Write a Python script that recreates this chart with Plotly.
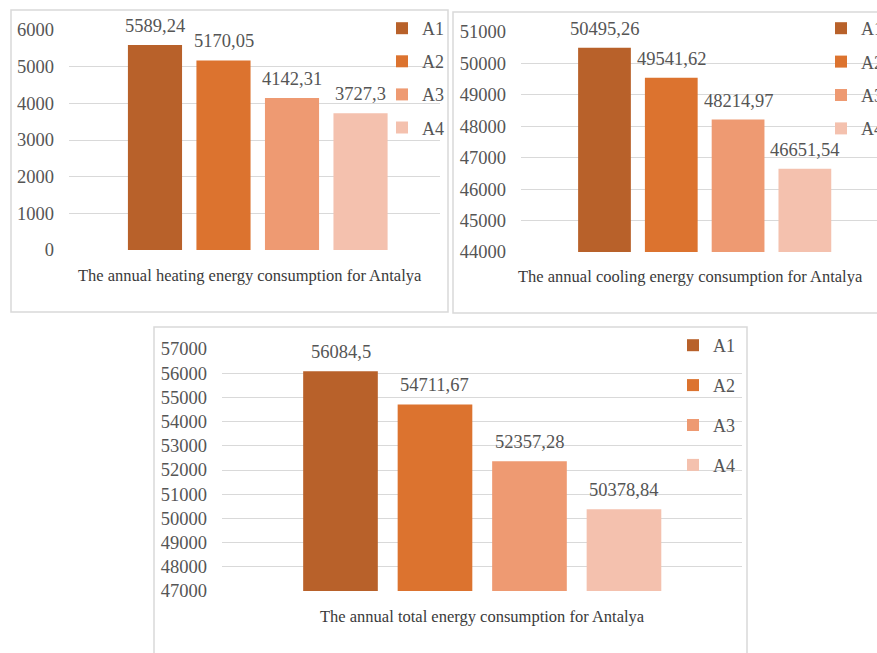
import plotly.graph_objects as go

# Series names and colours shared by all three panels
series = ["A1", "A2", "A3", "A4"]
colors = ["#B8612A", "#DC732F", "#EE9A72", "#F4C1AE"]

# Annual energy consumption values (kWh) for Antalya
heating = [5589.24, 5170.05, 4142.31, 3727.3]
cooling = [50495.26, 49541.62, 48214.97, 46651.54]
total = [56084.5, 54711.67, 52357.28, 50378.84]

titles = [
    "The annual heating energy consumption for Antalya",
    "The annual cooling energy consumption for Antalya",
    "The annual total energy consumption for Antalya",
]

W, H = 877, 653
FONT = "Liberation Serif"
TXT = "#555555"
GRID = "#D9D9D9"


def px(x):
    return x / W


def py(y):
    return 1 - y / H


def fmt(v):
    return str(v).replace(".", ",")


panels = [
    dict(vals=heating, ax="", leg="legend", title=titles[0], tshift=-5,
         xdom=[px(69), px(440)], ydom=[py(250), py(30)],
         xr=[-1.255, 4.16], yr=[0, 6000],
         box=(11, 10, 448, 312), legpos=(382, 10), gap=6.7),
    dict(vals=cooling, ax="2", leg="legend2", title=titles[1], tshift=-9,
         xdom=[px(521), 1.0], ydom=[py(252), py(32)],
         xr=[-1.25, 4.08], yr=[44000, 51000],
         box=(453, 12, 890, 313), legpos=(821, 10), gap=7.0),
    dict(vals=total, ax="3", leg="legend3", title=titles[2], tshift=0,
         xdom=[px(222), px(742)], ydom=[py(591), py(349)],
         xr=[-1.254, 4.249], yr=[47000, 57000],
         box=(154, 327, 747, 670), legpos=(673, 327), gap=13.5),
]

fig = go.Figure()
layout = dict(
    width=W, height=H,
    margin=dict(l=0, r=0, t=0, b=0, autoexpand=False),
    paper_bgcolor="white", plot_bgcolor="white",
    barmode="overlay", showlegend=True,
    font=dict(family=FONT, color=TXT, size=18),
)
shapes = []
annotations = []

for p in panels:
    xa = "x" + p["ax"]
    ya = "y" + p["ax"]
    for name, col, v in zip(series, colors, p["vals"]):
        fig.add_trace(go.Bar(
            x=[name], y=[v], name=name, legend=p["leg"],
            legendgroup=name + p["ax"],
            marker=dict(color=col, line=dict(width=0)),
            width=0.79, xaxis=xa, yaxis=ya,
            hovertemplate="%{x}: %{y}<extra></extra>",
        ))
        annotations.append(dict(
            x=name, y=v, xref=xa, yref=ya, text=fmt(v), showarrow=False,
            yanchor="middle", yshift=19,
            font=dict(family=FONT, size=18.5, color=TXT),
        ))
    annotations.append(dict(
        x=0.5, y=0, xref=xa + " domain", yref=ya + " domain",
        text=p["title"], showarrow=False, yanchor="middle", yshift=-25,
        xshift=p["tshift"],
        font=dict(family=FONT, size=16.5, color="#3a3a3a"),
    ))
    layout["xaxis" + p["ax"]] = dict(
        domain=p["xdom"], range=p["xr"], type="category",
        categoryorder="array", categoryarray=series,
        showticklabels=False, showgrid=False, zeroline=False,
        showline=False, ticks="", anchor=ya, fixedrange=True,
    )
    layout["yaxis" + p["ax"]] = dict(
        domain=p["ydom"], range=p["yr"], dtick=1000, tick0=0,
        tickformat="d",
        showgrid=True, gridcolor=GRID, gridwidth=1, zeroline=False,
        showline=False, ticks="", ticklabelstandoff=14,
        tickfont=dict(family=FONT, size=18.5, color=TXT),
        anchor=xa, fixedrange=True,
    )
    lx, ly = p["legpos"]
    layout[p["leg"]] = dict(
        x=px(lx), y=py(ly), xanchor="left", yanchor="top",
        bgcolor="rgba(0,0,0,0)", borderwidth=0,
        traceorder="grouped", tracegroupgap=p["gap"],
        font=dict(family=FONT, size=18, color=TXT),
        itemclick=False, itemdoubleclick=False,
    )
    x0, y0, x1, y1 = p["box"]
    shapes.append(dict(
        type="rect", xref="paper", yref="paper",
        x0=px(x0), x1=px(x1), y0=py(y1), y1=py(y0),
        line=dict(color=GRID, width=1.5), fillcolor="rgba(0,0,0,0)",
        layer="below",
    ))

layout["shapes"] = shapes
layout["annotations"] = annotations
fig.update_layout(**layout)

fig.write_html("out.html")
